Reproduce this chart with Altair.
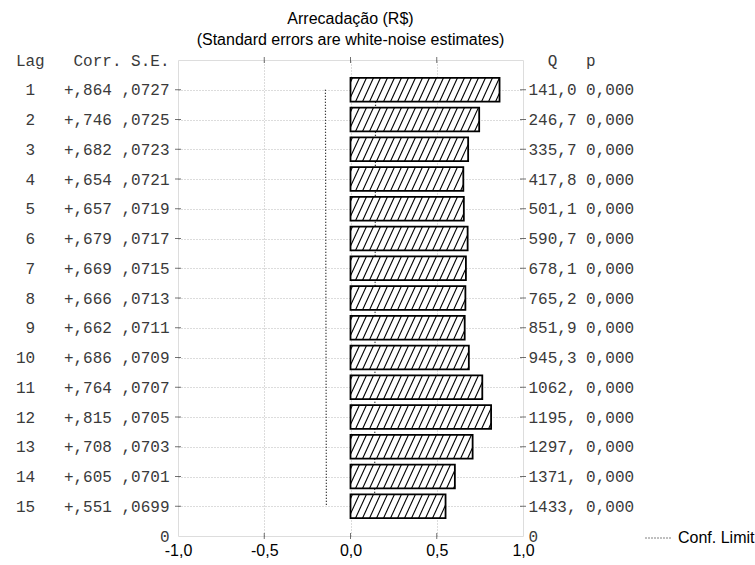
import json
import altair as alt
import pandas as pd

# ---------------- data ----------------
lags = list(range(1, 16))
corr = [0.864, 0.746, 0.682, 0.654, 0.657, 0.679, 0.669, 0.666, 0.662, 0.686,
        0.764, 0.815, 0.708, 0.605, 0.551]
se = [0.0727, 0.0725, 0.0723, 0.0721, 0.0719, 0.0717, 0.0715, 0.0713, 0.0711,
      0.0709, 0.0707, 0.0705, 0.0703, 0.0701, 0.0699]
q_stat = [141.0, 246.7, 335.7, 417.8, 501.1, 590.7, 678.1, 765.2, 851.9, 945.3,
          1062, 1195, 1297, 1371, 1433]
p_val = [0.000, 0.000, 0.000, 0.000, 0.000, 0.000, 0.000, 0.000, 0.000, 0.000,
         0.000, 0.000, 0.000, 0.000, 0.000]
x_ticks = [-1.0, -0.5, 0.0, 0.5, 1.0]
x_tick_labels = ["-1,0", "-0,5", "0,0", "0,5", "1,0"]
title_text = "Arrecadação (R$)"
subtitle_text = "(Standard errors are white-noise estimates)"
left_header = "Lag   Corr. S.E."
right_header = "Q   p"
legend_label = "Conf. Limit"

# ---------------- layout ----------------
W, H = 345, 476
XD = [-1, 1]
YD = [0, 16]
BAND = 0.4
NB = "\u00a0"
CHAR_W = 9.6  # monospace advance at 16px


def fmt_corr(v):
    s = f"{abs(v):.3f}"[1:].replace(".", ",")
    return ("+" if v >= 0 else "-") + s


def fmt_se(v):
    return f"{v:.4f}"[1:].replace(".", ",")


def fmt_q(v):
    if v < 1000:
        return f"{v:.1f}".replace(".", ",")
    return f"{int(round(v))},"


def fmt_p(v):
    return f"{v:.3f}".replace(".", ",")


left_labels = [left_header] + [
    f"{lag:>2}   {fmt_corr(c)} {fmt_se(s)}" for lag, c, s in zip(lags, corr, se)
] + ["0"]
right_labels = [right_header] + [
    f"{fmt_q(q)} {fmt_p(p)}" for q, p in zip(q_stat, p_val)
] + ["0"]
left_labels = [s.replace(" ", NB) for s in left_labels]
right_labels = [s.replace(" ", NB) for s in right_labels]

left_expr = json.dumps(left_labels, ensure_ascii=False) + "[datum.value]"
right_expr = json.dumps(right_labels, ensure_ascii=False) + "[datum.value]"
x_expr = ""
for v, lab in zip(x_ticks, x_tick_labels):
    x_expr += f"datum.value == {v} ? '{lab}' : "
x_expr += "''"

bars = pd.DataFrame({
    "lag": lags,
    "corr": corr,
    "zero": [0.0] * len(lags),
    "ytop": [l - BAND for l in lags],
    "ybot": [l + BAND for l in lags],
})

conf_rows = []
for lag, s in zip(lags, se):
    conf_rows.append({"x": -2 * s, "y": lag, "side": "neg", "series": legend_label})
    conf_rows.append({"x": 2 * s, "y": lag, "side": "pos", "series": legend_label})
conf = pd.DataFrame(conf_rows)

# hatch segments (diagonal "/" lines) clipped to each bar
px_x = W / (XD[1] - XD[0])
SP = 7.0
SL = 11.0
hatch_rows = []
for lag, c in zip(lags, corr):
    w = c * px_x
    xb = -SL + 2.0
    while xb < w:
        t0 = max(0.0, (0.0 - xb) / SL)
        t1 = min(1.0, (w - xb) / SL)
        if t1 > t0:
            hatch_rows.append({
                "x": (xb + SL * t0) / px_x,
                "x2": (xb + SL * t1) / px_x,
                "y": lag + BAND - 2 * BAND * t0,
                "y2": lag + BAND - 2 * BAND * t1,
            })
        xb += SP
hatch = pd.DataFrame(hatch_rows)

htick = pd.DataFrame({"x": [XD[0]] * len(lags) + [XD[1]] * len(lags),
                      "y": lags + lags})
vtick = pd.DataFrame({"x": x_ticks[1:-1] * 2,
                      "y": [YD[0]] * 3 + [YD[1]] * 3})

xscale = alt.Scale(domain=XD, nice=False, zero=False)
yscale = alt.Scale(domain=YD, nice=False, zero=False, reverse=True)

grid_common = dict(gridDash=[1, 2], gridColor="#b8b8b8", gridWidth=1)

x_axis = alt.Axis(values=x_ticks, labelExpr=x_expr, title=None, ticks=False,
                  domain=False, labelFont="Liberation Sans", labelFontSize=16,
                  labelColor="black", labelPadding=6, labelFlush=False,
                  grid=True,
                  gridOpacity={"condition": {"test": "abs(datum.value) == 1", "value": 0},
                               "value": 1},
                  **grid_common)

left_axis = alt.Axis(orient="left", values=list(range(0, 17)), labelExpr=left_expr,
                     title=None, ticks=False, domain=False,
                     labelFont="Liberation Mono", labelFontSize=16,
                     labelColor="#3a3a3a", labelPadding=9, labelLimit=400,
                     labelOverlap=False, labelFlush=False, labelBound=False,
                     grid=True,
                     gridOpacity={"condition": {"test": "datum.value == 0 || datum.value == 16",
                                                "value": 0}, "value": 1},
                     **grid_common)

right_axis = alt.Axis(orient="right", values=list(range(0, 17)), labelExpr=right_expr,
                      title=None, ticks=False, domain=False,
                      labelFont="Liberation Mono", labelFontSize=16,
                      labelColor="#3a3a3a",
                      labelPadding={"condition": {"test": "datum.value == 0",
                                                  "value": 5 + 2 * CHAR_W},
                                    "value": 5},
                      labelLimit=400,
                      labelOverlap=False, labelFlush=False, labelBound=False,
                      grid=False)

conf_layer = alt.Chart(conf).mark_line(strokeDash=[1, 2], strokeWidth=1.2).encode(
    x=alt.X("x:Q", scale=xscale, axis=x_axis),
    y=alt.Y("y:Q", scale=yscale, axis=left_axis),
    detail="side:N",
    order=alt.Order("y:Q"),
    color=alt.Color("series:N", scale=alt.Scale(range=["black"]),
                    legend=alt.Legend(title=None, orient="none", legendX=467,
                                      legendY=464, symbolType="stroke",
                                      symbolDash=[1, 2], symbolStrokeWidth=1,
                                      symbolSize=729, labelFont="Liberation Sans",
                                      labelFontSize=16, labelColor="black",
                                      labelOffset=5, padding=0)),
)

bar_layer = alt.Chart(bars).mark_rect(fill="white", stroke="black", strokeWidth=1.8).encode(
    x=alt.X("zero:Q", scale=xscale, axis=x_axis),
    x2="corr:Q",
    y=alt.Y("ytop:Q", scale=yscale, axis=None),
    y2="ybot:Q",
)

hatch_layer = alt.Chart(hatch).mark_rule(color="black", strokeWidth=1.1).encode(
    x=alt.X("x:Q", scale=xscale, axis=x_axis),
    x2="x2:Q",
    y=alt.Y("y:Q", scale=yscale, axis=None),
    y2="y2:Q",
)

htick_layer = alt.Chart(htick).mark_tick(orient="horizontal", size=6, thickness=1,
                                         color="#333333").encode(
    x=alt.X("x:Q", scale=xscale, axis=x_axis),
    y=alt.Y("y:Q", scale=yscale, axis=right_axis),
)

vtick_layer = alt.Chart(vtick).mark_tick(orient="vertical", size=6, thickness=1,
                                         color="#333333").encode(
    x=alt.X("x:Q", scale=xscale, axis=x_axis),
    y=alt.Y("y:Q", scale=yscale, axis=None),
)

chart = alt.layer(conf_layer, bar_layer, hatch_layer, htick_layer, vtick_layer).resolve_scale(
    y="independent"
).properties(
    width=W,
    height=H,
    autosize=alt.AutoSizeParams(type="none"),
    padding={"left": 178, "top": 60, "right": 755 - 178 - W, "bottom": 565 - 60 - H},
    title=alt.TitleParams(text=title_text, subtitle=subtitle_text,
                          font="Liberation Sans", fontSize=16, fontWeight="normal",
                          color="black", subtitleFont="Liberation Sans",
                          subtitleFontSize=16, subtitleColor="black",
                          anchor="middle", offset=4, subtitlePadding=5),
).configure_view(
    stroke="#333333", strokeWidth=2
).configure(background="white")

chart.save("out.html", embed_options={"renderer": "svg", "actions": False})
